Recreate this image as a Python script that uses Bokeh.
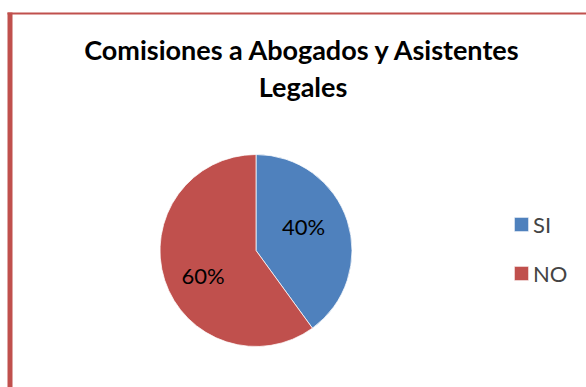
import math
from bokeh.plotting import figure
from bokeh.models import ColumnDataSource, Range1d, BoxAnnotation, Legend, LegendItem
from bokeh.core.properties import value
from bokeh.embed import file_html
from bokeh.resources import INLINE

# ---- data ----
categories = ["SI", "NO"]
values = [40, 60]
colors = ["#4F81BD", "#C0504D"]
title_lines = ["Comisiones a Abogados y Asistentes", "Legales"]

# ---- layout (pixels == data units) ----
W, H = 586, 387
cx, cy, R = 255.5, 137.0, 96.0
FONT = "Lato"

total = float(sum(values))
starts, ends, mids, labels = [], [], [], []
a = math.pi / 2
for v in values:
    sweep = 2 * math.pi * v / total
    starts.append(a)
    ends.append(a - sweep)
    mids.append(a - sweep / 2)
    labels.append(f"{round(100 * v / total)}%")
    a -= sweep

off = math.radians(8)
rl = 56.0
lx = [cx - 2.7 + rl * math.cos(m + off) for m in mids]
ly = [cy - 0.5 + rl * math.sin(m + off) for m in mids]

src = ColumnDataSource(dict(cat=categories, val=values, color=colors,
                            start=starts, end=ends, lx=lx, ly=ly, lab=labels))

p = figure(width=W, height=H, output_backend="svg", toolbar_location=None,
           x_range=Range1d(0, W), y_range=Range1d(0, H), min_border=0)
p.axis.visible = False
p.grid.visible = False
p.outline_line_color = None
p.background_fill_color = "white"
p.border_fill_color = "white"

wedges = p.wedge(x=cx, y=cy, radius=R, start_angle="start", end_angle="end",
                 direction="clock", fill_color="color", line_color="white",
                 line_width=0.75, source=src)

p.text(x="lx", y="ly", text="lab", source=src, text_align="center",
       text_baseline="middle", text_font=value(FONT), text_font_size="22px",
       text_color="black")

p.text(x=[302.5, 302.5], y=[338.2, 301.0], text=title_lines,
       text_align="center", text_baseline="alphabetic", text_font=value(FONT),
       text_font_style="bold", text_font_size="27px", text_color="black")

# chart border (left thick, top thin)
red = "#C0504D"
p.add_layout(BoxAnnotation(left=7, right=12, top=375, fill_color=red,
                           fill_alpha=1, line_alpha=0))
p.add_layout(BoxAnnotation(left=7, bottom=373, top=375, fill_color=red,
                           fill_alpha=1, line_alpha=0))

legend = Legend(items=[LegendItem(label=c, renderers=[wedges], index=i)
                       for i, c in enumerate(categories)],
                location=(512, 100.5), orientation="vertical")
legend.glyph_width = 18
legend.glyph_height = 18
legend.label_standoff = 3
legend.label_text_font = FONT
legend.label_text_font_size = "22px"
legend.label_height = 26
legend.spacing = 22
legend.padding = 0
legend.margin = 0
legend.border_line_alpha = 0
legend.background_fill_alpha = 0
p.add_layout(legend)

open("out.html", "w").write(file_html(p, INLINE))
